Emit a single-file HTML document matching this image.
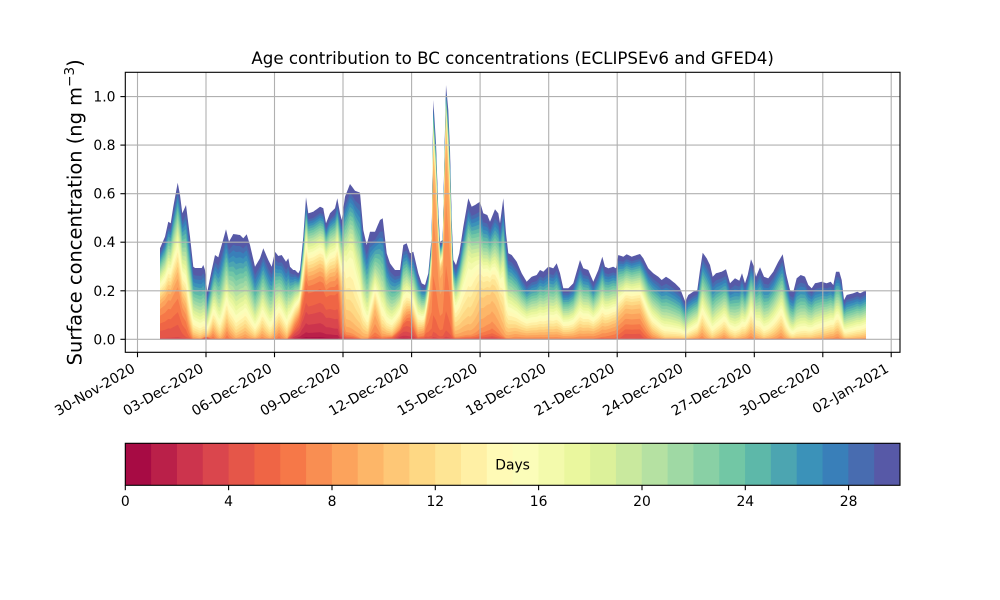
<!DOCTYPE html>
<html><head><meta charset="utf-8">
<style>
html,body{margin:0;padding:0;background:#fff;}
svg{display:block;}
text{font-family:"DejaVu Sans","Liberation Sans",sans-serif;fill:#000;}
</style></head>
<body>
<svg id="s" width="1000" height="600" viewBox="0 0 1000 600" xmlns="http://www.w3.org/2000/svg">
<rect width="1000" height="600" fill="#fff"/>
<g id="layers"></g>
<line x1="160" y1="339.3" x2="866" y2="339.3" stroke="rgb(218,70,76)" stroke-width="1"/>
<g id="grid" stroke="#b0b0b0" stroke-width="1.1">
<line x1="137.5" y1="72.3" x2="137.5" y2="352.3"/>
<line x1="206.0" y1="72.3" x2="206.0" y2="352.3"/>
<line x1="274.5" y1="72.3" x2="274.5" y2="352.3"/>
<line x1="343.0" y1="72.3" x2="343.0" y2="352.3"/>
<line x1="411.6" y1="72.3" x2="411.6" y2="352.3"/>
<line x1="480.1" y1="72.3" x2="480.1" y2="352.3"/>
<line x1="548.7" y1="72.3" x2="548.7" y2="352.3"/>
<line x1="617.2" y1="72.3" x2="617.2" y2="352.3"/>
<line x1="685.7" y1="72.3" x2="685.7" y2="352.3"/>
<line x1="754.3" y1="72.3" x2="754.3" y2="352.3"/>
<line x1="822.8" y1="72.3" x2="822.8" y2="352.3"/>
<line x1="891.2" y1="72.3" x2="891.2" y2="352.3"/>
<line x1="125.3" y1="339.3" x2="900" y2="339.3"/>
<line x1="125.3" y1="290.8" x2="900" y2="290.8"/>
<line x1="125.3" y1="242.2" x2="900" y2="242.2"/>
<line x1="125.3" y1="193.7" x2="900" y2="193.7"/>
<line x1="125.3" y1="145.1" x2="900" y2="145.1"/>
<line x1="125.3" y1="96.6" x2="900" y2="96.6"/>
</g>
<rect x="125.3" y="72.3" width="774.7" height="280" fill="none" stroke="#000" stroke-width="1.1"/>
<g stroke="#000" stroke-width="1.1">
<line x1="137.5" y1="352.3" x2="137.5" y2="357.2"/>
<line x1="206.0" y1="352.3" x2="206.0" y2="357.2"/>
<line x1="274.5" y1="352.3" x2="274.5" y2="357.2"/>
<line x1="343.0" y1="352.3" x2="343.0" y2="357.2"/>
<line x1="411.6" y1="352.3" x2="411.6" y2="357.2"/>
<line x1="480.1" y1="352.3" x2="480.1" y2="357.2"/>
<line x1="548.7" y1="352.3" x2="548.7" y2="357.2"/>
<line x1="617.2" y1="352.3" x2="617.2" y2="357.2"/>
<line x1="685.7" y1="352.3" x2="685.7" y2="357.2"/>
<line x1="754.3" y1="352.3" x2="754.3" y2="357.2"/>
<line x1="822.8" y1="352.3" x2="822.8" y2="357.2"/>
<line x1="891.2" y1="352.3" x2="891.2" y2="357.2"/>
<line x1="120.4" y1="339.3" x2="125.3" y2="339.3"/>
<line x1="120.4" y1="290.8" x2="125.3" y2="290.8"/>
<line x1="120.4" y1="242.2" x2="125.3" y2="242.2"/>
<line x1="120.4" y1="193.7" x2="125.3" y2="193.7"/>
<line x1="120.4" y1="145.1" x2="125.3" y2="145.1"/>
<line x1="120.4" y1="96.6" x2="125.3" y2="96.6"/>
</g>
<g font-size="13.9" text-anchor="end">
<text x="115.5" y="344.3">0.0</text>
<text x="115.5" y="295.8">0.2</text>
<text x="115.5" y="247.2">0.4</text>
<text x="115.5" y="198.7">0.6</text>
<text x="115.5" y="150.1">0.8</text>
<text x="115.5" y="101.6">1.0</text>
</g>
<g font-size="13.9" text-anchor="end">
<text x="136.0" y="371.2" transform="rotate(-30 136.0 371.2)">30-Nov-2020</text>
<text x="204.5" y="371.2" transform="rotate(-30 204.5 371.2)">03-Dec-2020</text>
<text x="273.0" y="371.2" transform="rotate(-30 273.0 371.2)">06-Dec-2020</text>
<text x="341.5" y="371.2" transform="rotate(-30 341.5 371.2)">09-Dec-2020</text>
<text x="410.1" y="371.2" transform="rotate(-30 410.1 371.2)">12-Dec-2020</text>
<text x="478.6" y="371.2" transform="rotate(-30 478.6 371.2)">15-Dec-2020</text>
<text x="547.2" y="371.2" transform="rotate(-30 547.2 371.2)">18-Dec-2020</text>
<text x="615.7" y="371.2" transform="rotate(-30 615.7 371.2)">21-Dec-2020</text>
<text x="684.2" y="371.2" transform="rotate(-30 684.2 371.2)">24-Dec-2020</text>
<text x="752.8" y="371.2" transform="rotate(-30 752.8 371.2)">27-Dec-2020</text>
<text x="821.3" y="371.2" transform="rotate(-30 821.3 371.2)">30-Dec-2020</text>
<text x="889.7" y="371.2" transform="rotate(-30 889.7 371.2)">02-Jan-2021</text>
</g>
<text x="512.6" y="64" font-size="16.67" text-anchor="middle">Age contribution to BC concentrations (ECLIPSEv6 and GFED4)</text>
<text x="81.5" y="212.3" font-size="19.44" text-anchor="middle" transform="rotate(-90 81.5 212.3)">Surface concentration (ng m<tspan font-size="13.6" dy="-7.5">−3</tspan><tspan dy="7.5">)</tspan></text>
<g id="cbar"></g>
<rect x="125.3" y="443.3" width="774.7" height="42" fill="none" stroke="#000" stroke-width="1.1"/>
<text x="512.6" y="469.4" font-size="13.9" text-anchor="middle">Days</text>
<g stroke="#000" stroke-width="1.1">
<line x1="125.3" y1="485.3" x2="125.3" y2="490.2"/>
<line x1="228.6" y1="485.3" x2="228.6" y2="490.2"/>
<line x1="332.0" y1="485.3" x2="332.0" y2="490.2"/>
<line x1="435.3" y1="485.3" x2="435.3" y2="490.2"/>
<line x1="538.6" y1="485.3" x2="538.6" y2="490.2"/>
<line x1="642.0" y1="485.3" x2="642.0" y2="490.2"/>
<line x1="745.3" y1="485.3" x2="745.3" y2="490.2"/>
<line x1="848.6" y1="485.3" x2="848.6" y2="490.2"/>
</g>
<g font-size="13.9" text-anchor="middle">
<text x="125.3" y="505.8">0</text>
<text x="228.6" y="505.8">4</text>
<text x="332.0" y="505.8">8</text>
<text x="435.3" y="505.8">12</text>
<text x="538.6" y="505.8">16</text>
<text x="642.0" y="505.8">20</text>
<text x="745.3" y="505.8">24</text>
<text x="848.6" y="505.8">28</text>
</g>
</svg>
<script>
(function(){
var NS="http://www.w3.org/2000/svg";
var SP=[[158,1,66],[213,62,79],[244,109,67],[253,174,97],[254,224,139],[255,255,191],[230,245,152],[171,221,164],[102,194,165],[50,136,189],[94,79,162]];
function spec(t){var f=t*10;var i=Math.min(9,Math.floor(f));var u=f-i;var a=SP[i],b=SP[i+1];
 return 'rgb('+Math.round(a[0]+(b[0]-a[0])*u)+','+Math.round(a[1]+(b[1]-a[1])*u)+','+Math.round(a[2]+(b[2]-a[2])*u)+')';}
var cb=document.getElementById('cbar');
var w=774.7/30;
for(var i=0;i<30;i++){var r=document.createElementNS(NS,'rect');
 r.setAttribute('x',(125.3+i*w).toFixed(2));r.setAttribute('y','443.3');
 r.setAttribute('width',(w+0.5).toFixed(2));r.setAttribute('height','42');
 r.setAttribute('fill',spec((i+0.5)/30));cb.appendChild(r);}
var P=[[160,248.3],[165,236.7],[168.3,221.7],[170.7,223.3],[173.3,206.7],[177.7,182.7],[180,195],[182.3,213.3],[186,205],[190,236.7],[193.3,266.7],[195,268],[201.7,268],[203.3,265],[205,270],[207.3,291.7],[211.7,270],[215,255],[218.3,257.3],[221.7,245],[226,229.3],[229,241.7],[233.3,234],[240,235],[243.3,238.3],[246.7,234.3],[250,245],[255,266.7],[260,258.3],[263.3,248.3],[268.3,260],[271.7,266.7],[275,251.7],[278.3,256],[281.7,255],[286,261.7],[288.3,258.3],[290,266.7],[293.3,270],[295,270],[298.3,273.3],[300,270],[303.3,236.7],[306,197.3],[308.3,213.3],[313.3,211.7],[320,206.7],[323.3,208.3],[326,223.3],[330,213.3],[335,208.3],[337.3,198.3],[340,213.3],[341.7,220],[345,196.7],[350,184],[355,190.7],[360,192.7],[363.3,230],[366.7,245],[370,231.7],[375,231.7],[380,220],[382.7,218.3],[386.7,253.3],[390,263.3],[395,270],[400,270],[403.3,245],[406.7,243.3],[410,253.3],[413.3,251.7],[418.3,273.3],[421.7,283.3],[425,285],[428.3,273.3],[431.7,236.7],[433.3,100],[436,143.3],[438.3,210],[440,241.7],[442.7,240],[444.3,160],[446,85],[448.3,110],[450,150],[451.7,220],[453.3,260],[456,265],[459.3,253.3],[463.3,226.7],[468.3,198.3],[471.7,206.7],[475,205],[480,201.7],[483.3,213.3],[487.3,215],[490,221.7],[495,209.3],[498.3,213.3],[500,223.3],[503.3,198.3],[506,233.3],[508.3,253.3],[511.7,255],[516.7,261.7],[521.7,273.3],[526.7,281.7],[531.7,276.7],[536.7,275],[540,270],[543.3,271.7],[548.3,266.7],[553.3,268.3],[556.7,263.3],[560,273.3],[563.3,288.3],[568.3,288.3],[573.3,283.3],[580,260],[583.3,268.3],[588.3,270],[593.3,281.7],[598.3,270],[602.3,256.7],[605,266.7],[608.3,268.3],[613.3,266.7],[616,268.3],[618.3,255],[623.3,256.7],[626.7,254.3],[631.7,256.7],[636.7,255],[640,254],[643.3,258.3],[648.3,268.3],[653.3,273.3],[658.3,276.7],[661.7,280],[666,276.7],[670,279.3],[675,283.3],[680,288.3],[683.3,296.7],[685.3,301.7],[688.3,295],[693.3,291.7],[697.3,290],[700,270],[702.7,252.7],[706.7,258.3],[710,265],[712.7,276.7],[716,273.3],[721.7,271.7],[726,269.3],[730,283.3],[735,278.3],[739.3,280.7],[742,273.3],[745,283.3],[747.7,275],[751,259.3],[754,266.7],[756,276.7],[760,267.3],[764,276.7],[768.3,278.3],[773.3,271.7],[778.3,261.7],[782.7,254.3],[786,273.3],[790,290],[793.3,291.7],[796.7,278.3],[800.7,275],[805,276.7],[808.3,285],[811.7,288.3],[815,283.3],[821.7,281.7],[826.7,283.3],[830.7,281.7],[833.3,285],[836,271.7],[839.3,271.7],[841.7,280],[844,300],[846.7,295],[853.3,293.3],[857.3,291.7],[860,293.3],[863.3,291.7],[866,290]];
// [x, a0, p, q, ay, sy, r]
var K=[[160,4,0.8,0.2,6.5,1,0.03],[178,4,0.8,0.2,6.5,1,0.03],[186,5,1.0,0.1,6.5,1,0.04],[193,7,1.3,0,6,1,0.05],[200,8,1.4,0,6,1,0.05],[207,8,1.4,0.05,4,1,0.05],[213,6,1.0,0,6,1,0.04],[220,8,1.4,0,6,1,0.05],[227,6,1.0,0,6,1,0.04],[236,8,1.4,0,6,1,0.05],[245,7,1.2,0,6,1,0.05],[255,8,1.5,0,6,1,0.05],[262,7,1.1,0,6,1,0.05],[270,8,1.4,0,6,1,0.05],[279,6,1.0,0,6,1,0.04],[287,8,1.3,0,6,1,0.05],[294,6,1.0,0.15,4,1,0.03],[302,5,0.7,0.32,3.5,1,0.03],[320,5,0.7,0.35,3.5,1,0.03],[338,5,0.7,0.3,4,1,0.03],[346,8,1.3,0.45,12,2,0.03],[353,8,1.3,0.5,13,2,0.03],[362,8,1.2,0.05,13,2,0.04],[368,8,1.4,0.02,8,1,0.05],[375,7,1.1,0.25,8,1,0.04],[382,8,1.4,0.05,8,1,0.05],[392,8,1.4,0.05,6,1,0.05],[400,7,1.1,0.15,4,1,0.04],[410,7,1.1,0.3,5,1,0.04],[418,7,1.1,0.05,6,1,0.04],[424,7,1.0,0.1,6,1,0.04],[428,7,1.0,0.5,7,0.8,0.03],[433,7,1.0,0.78,7.5,0.8,0.02],[440,7,1.0,0.7,7.5,0.8,0.02],[446,7,1.0,0.85,7.5,0.8,0.02],[451,7,1.0,0.6,7.5,0.8,0.03],[455,8,1.2,0.3,12,2,0.04],[470,8,1.2,0.45,13,2,0.04],[480,8,1.2,0.4,10,1.5,0.04],[492,8,1.2,0.45,9,1.5,0.04],[500,8,1.2,0.35,10,1.5,0.04],[506,8,1.2,0.2,13,2,0.04],[515,7,1.1,0.05,13,2,0.05],[560,7,1.1,0,13,2,0.05],[600,7,1.1,0.08,8,1.5,0.05],[615,6,1.0,0.1,8,1.5,0.04],[625,4,0.9,0.2,8,1.5,0.03],[640,4,0.9,0.2,8,1.5,0.03],[652,7,1.2,0.05,8,1.5,0.04],[665,9,1.4,0,8,1.5,0.05],[685,9,1.4,0,8,1.5,0.05],[702,7,1.0,0,8,1.5,0.04],[712,9,1.4,0,8,1.5,0.05],[724,7,1.1,0,8,1.5,0.05],[735,9,1.4,0,8,1.5,0.05],[751,7,1.0,0,8,1.5,0.04],[764,9,1.4,0,8,1.5,0.05],[781,7,1.0,0,8,1.5,0.04],[792,9,1.5,0,8,1.5,0.06],[810,9,1.3,0,8,1.5,0.05],[838,7,1.0,0,8,1.5,0.04],[846,9,1.3,0,8,1.5,0.05],[866,8,1.1,0,8,1.5,0.04]];
function interp(A,x,j){if(x<=A[0][0])return A[0][j];
 for(var i=1;i<A.length;i++){if(x<=A[i][0]){var a=A[i-1],b=A[i];var u=(x-a[0])/(b[0]-a[0]);return a[j]+(b[j]-a[j])*u;}}
 return A[A.length-1][j];}
function L(z){return 1/(1+Math.exp(-z));}
var Y0=339.3;
var xs=[];for(var x=160;x<=866;x++)xs.push(x);
for(var i=0;i<P.length;i++)xs.push(P[i][0]);
xs.sort(function(a,b){return a-b;});
var X=[],T=[],C=[];
var last=-1;
for(var i=0;i<xs.length;i++){var x=xs[i];if(Math.abs(x-last)<0.05)continue;last=x;
 var t=Y0-interp(P,x,1);
 var a0=interp(K,x,1),p=interp(K,x,2),q=interp(K,x,3),ay=interp(K,x,4),sy=interp(K,x,5),rr=interp(K,x,6);
 var y0=L((0-ay)/sy),y1=L((30-ay)/sy);
 var c=[];
 for(var a=0;a<=30;a++){
  var u=(a-a0)/(30-a0); if(u<0)u=0; if(u>1)u=1;
  var cb_=Math.pow(u,p);
  var cy=(L((a-ay)/sy)-y0)/(y1-y0);
  c.push((1-rr)*(q*cy+(1-q)*cb_));}
 c[30]=1;
 X.push(x);T.push(t);C.push(c);}
var g=document.getElementById('layers');
for(var k=29;k>=0;k--){
 var d='M160,'+Y0;
 for(var i=0;i<X.length;i++){d+='L'+X[i].toFixed(2)+','+(Y0-T[i]*C[i][k+1]).toFixed(2);}
 d+='L866,'+Y0+'Z';
 var pth=document.createElementNS(NS,'path');
 pth.setAttribute('d',d);pth.setAttribute('fill',spec((k+0.5)/30));
 g.appendChild(pth);}
})();
</script>
</body></html>
